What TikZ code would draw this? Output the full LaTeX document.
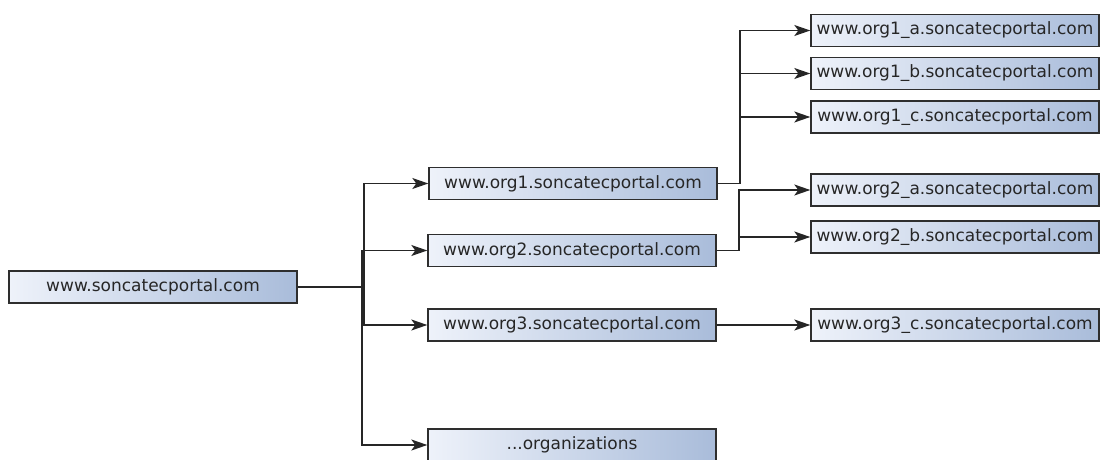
\documentclass[tikz,border=0pt]{standalone}
\usepackage{fontspec}
\setmainfont{DejaVu Sans}
\usetikzlibrary{arrows.meta}
\definecolor{boxleft}{HTML}{EEF2FA}
\definecolor{boxright}{HTML}{A9BCDA}
\definecolor{boxline}{HTML}{2E2E2E}
\tikzset{
  site/.style={draw=boxline, line width=1.4pt, left color=boxleft, right color=boxright,
    minimum width=288pt, minimum height=32pt, inner sep=0pt,
    font=\fontsize{17}{19}\selectfont, text=black!85},
  conn/.style={draw=black!85, line width=1.3pt},
  arr/.style={conn, -{Stealth[length=16pt,width=11pt,inset=4pt]}}
}
\begin{document}
\begin{tikzpicture}[x=1pt,y=-1pt]
\useasboundingbox (0,0) rectangle (1101,460);
\node[site] (root) at (153,287) {www.soncatecportal.com};
\node[site] (org1) at (573,183.5) {www.org1.soncatecportal.com};
\node[site] (org2) at (572,250.5) {www.org2.soncatecportal.com};
\node[site] (org3) at (572,325) {www.org3.soncatecportal.com};
\node[site] (orgs) at (572,445) {...organizations};
\node[site] (o1a) at (955,30.5) {www.org1\_a.soncatecportal.com};
\node[site] (o1b) at (955,73.5) {www.org1\_b.soncatecportal.com};
\node[site] (o1c) at (955,117) {www.org1\_c.soncatecportal.com};
\node[site] (o2a) at (955,190) {www.org2\_a.soncatecportal.com};
\node[site] (o2b) at (955,237) {www.org2\_b.soncatecportal.com};
\node[site] (o3c) at (955,325) {www.org3\_c.soncatecportal.com};
\coordinate (j0) at (362,287);
\coordinate (j0b) at (364,287);
\coordinate (j1) at (740,183.5);
\coordinate (j2) at (739,250.5);
\draw[conn] (root.east) -- (j0b);
\draw[arr] (j0b) |- (org1.west);
\draw[arr] (j0) |- (org2.west);
\draw[arr] (j0b) |- (org3.west);
\draw[arr] (j0) |- (orgs.west);
\draw[conn] (org1.east) -- (j1);
\draw[arr] (j1) |- (o1a.west);
\draw[arr] (j1) |- (o1b.west);
\draw[arr] (j1) |- (o1c.west);
\draw[conn] (org2.east) -- (j2);
\draw[arr] (j2) |- (o2a.west);
\draw[arr] (j2) |- (o2b.west);
\draw[arr] (org3.east) -- (o3c.west);
\end{tikzpicture}
\end{document}
